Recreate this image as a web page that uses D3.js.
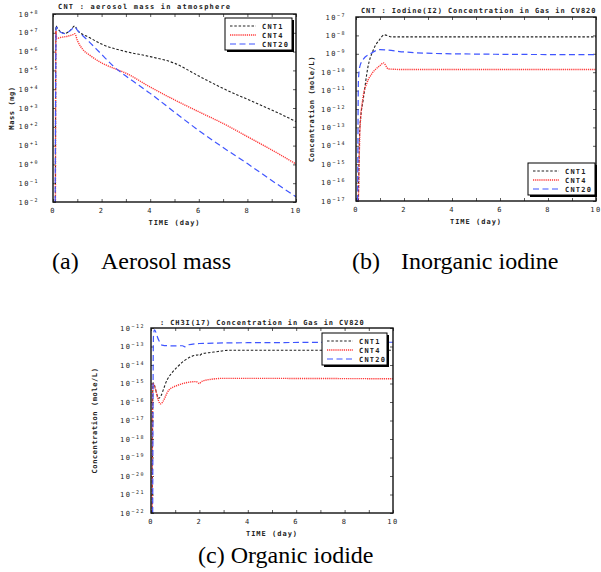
<!DOCTYPE html>
<html>
<head>
<meta charset="utf-8">
<script src="https://cdn.jsdelivr.net/npm/d3@7"></script>
<style>
  body { margin: 0; background: #fff; }
  svg { display: block; }
  .tick-lbl { font-family: "DejaVu Sans Mono", monospace; font-size: 7px; fill: #222; letter-spacing: 1px; }
  .caption { font-family: "Liberation Serif", "Times New Roman", serif; font-size: 24px; fill: #000; }
</style>
</head>
<body>
<svg id="chart" width="601" height="572"></svg>
<script>
// ---- data ----
const seriesNames = ['CNT1', 'CNT4', 'CNT20'];
const xTicks = [0, 2, 4, 6, 8, 10];

// (a) aerosol mass in atmosphere (mg)
const massT1 = [0.10, 0.12, 0.2, 0.5, 0.7, 0.9, 1.0, 1.5, 2, 3, 4, 5, 6, 7, 8, 9, 10];
const massV1 = [1e-2, 2.3e7, 1.6e7, 9.3e6, 1.3e7, 2.3e7, 1.4e7, 5.6e6, 2.5e6, 1.0e6, 5.4e5, 2.4e5, 5.0e4, 1.1e4, 2.9e3, 7.9e2, 1.9e2];
const massT4 = [0.10, 0.12, 0.15, 0.3, 0.6, 0.85, 0.9, 1.0, 1.25, 1.5, 2, 2.5, 3, 4, 5, 6, 7, 8, 9, 10];
const massV4 = [1e-2, 1.3e7, 5.0e6, 5.6e6, 6.6e6, 8.3e6, 8.9e6, 4.0e6, 1.2e6, 6.6e5, 2.5e5, 1.3e5, 7.1e4, 1.3e4, 2.7e3, 6.3e2, 1.5e2, 30, 5.9, 1.05];
const massT20 = [0.09, 0.13, 0.3, 0.5, 0.7, 0.9, 1.0, 1.5, 2, 2.5, 3, 4, 5, 6, 7, 8, 9, 10];
const massV20 = [1e-2, 2.0e7, 1.1e7, 8.9e6, 1.3e7, 2.0e7, 1.4e7, 3.2e6, 7.1e5, 1.6e5, 5.0e4, 6.0e3, 6.0e2, 63, 7.9, 1.1, 0.14, 0.019];

// (b) iodine (I2) concentration in gas in CV820 (mole/L)
const i2T1 = [0.1, 0.15, 0.2, 0.3, 0.5, 0.72, 1.0, 1.17, 1.5, 3, 6, 10];
const i2V1 = [1e-17, 5.0e-14, 4.0e-13, 3.2e-12, 2.0e-10, 1.6e-9, 6.3e-9, 1.07e-8, 8.3e-9, 8.3e-9, 8.3e-9, 8.3e-9];
const i2T4 = [0.1, 0.17, 0.28, 0.45, 0.65, 1.0, 1.14, 1.35, 2, 5, 10];
const i2V4 = [1e-17, 1e-13, 3.2e-12, 2.5e-11, 7.9e-11, 2.3e-10, 3.2e-10, 1.5e-10, 1.4e-10, 1.4e-10, 1.4e-10];
const i2T20 = [0.07, 0.1, 0.15, 0.3, 0.6, 1.0, 1.3, 2, 4, 10];
const i2V20 = [1e-17, 3.2e-11, 1.8e-10, 5.0e-10, 1.0e-9, 1.7e-9, 1.6e-9, 1.26e-9, 1.0e-9, 8.9e-10];

// (c) CH3I(17) concentration in gas in CV820 (mole/L)
const ch3iT1 = [0.05, 0.08, 0.32, 0.67, 1.09, 1.65, 1.95, 2.0, 2.1, 2.6, 3.3, 10];
const ch3iV1 = [1e-22, 1.1e-15, 1.6e-16, 1.6e-15, 7.9e-15, 2.8e-14, 3.5e-14, 3.2e-14, 4.0e-14, 5.0e-14, 6.3e-14, 6.3e-14];
const ch3iT4 = [0.05, 0.07, 0.39, 0.74, 1.09, 1.86, 2.0, 2.1, 2.5, 3, 10];
const ch3iV4 = [1e-22, 1.0e-15, 7.9e-17, 4.4e-16, 7.9e-16, 1.26e-15, 1.0e-15, 1.3e-15, 1.7e-15, 1.9e-15, 1.8e-15];
const ch3iT20 = [0.07, 0.1, 0.14, 0.3, 0.45, 0.9, 1.3, 1.4, 1.5, 2, 4, 10];
const ch3iV20 = [1e-22, 3.2e-13, 7.9e-13, 2.5e-13, 1.2e-13, 1.07e-13, 1.1e-13, 9.5e-14, 1.2e-13, 1.45e-13, 1.6e-13, 1.7e-13];

// ---- styles per series ----
const seriesStyle = {
  CNT1:  { color: '#222', dash: '2.5,1.8', width: 1.1 },
  CNT4:  { color: '#ff3838', dash: '1.2,0.9', width: 1.4 },
  CNT20: { color: '#3f55ff', dash: '6,3.5', width: 1.2 }
};

const svg = d3.select('#chart');

function zipSeries(ts, vs) {
  return ts.map((t, i) => [t, vs[i]]);
}

// 上标形式的刻度标签 "1 0^+8"
function expLabel(sel, v) {
  const e = Math.round(Math.log10(v));
  const sign = e < 0 ? '\u2212' : '+';
  sel.text(null);
  sel.append('tspan').text('10');
  sel.append('tspan').attr('dy', -3).style('font-size', '5px').text(sign + Math.abs(e));
}

function drawPanel(cfg) {
  const { left, right, top, bottom } = cfg.box;
  const x = d3.scaleLinear().domain([0, 10]).range([left, right]);
  const y = d3.scaleLog().domain(cfg.yDomain).range([bottom, top]);
  const decades = d3.range(Math.log10(cfg.yDomain[0]), Math.log10(cfg.yDomain[1]) + 1).map(e => Math.pow(10, e));

  const g = svg.append('g');
  const clipId = 'clip-' + cfg.id;
  g.append('clipPath').attr('id', clipId)
    .append('rect').attr('x', left).attr('y', top).attr('width', right - left).attr('height', bottom - top);

  // inward ticks on four sides
  const minor = d3.range(0, 11);
  g.append('g').attr('transform', `translate(0,${bottom})`)
    .call(d3.axisBottom(x).tickValues(minor).tickSize(-3).tickFormat(''));
  g.append('g').attr('transform', `translate(0,${top})`)
    .call(d3.axisTop(x).tickValues(minor).tickSize(-3).tickFormat(''));
  g.append('g').attr('transform', `translate(${left},0)`)
    .call(d3.axisLeft(y).tickValues(decades).tickSize(-3).tickFormat(''));
  g.append('g').attr('transform', `translate(${right},0)`)
    .call(d3.axisRight(y).tickValues(decades).tickSize(-3).tickFormat(''));
  g.selectAll('.domain').remove();
  g.selectAll('.tick line').attr('stroke', '#333').attr('stroke-width', 0.8);

  // x tick labels
  g.selectAll('.xlbl').data(xTicks).join('text')
    .attr('class', 'tick-lbl')
    .attr('x', d => x(d)).attr('y', bottom + 11)
    .attr('text-anchor', 'middle')
    .style('letter-spacing', '1.5px')
    .text(d => d);

  // y tick labels
  g.selectAll('.ylbl').data(decades).join('text')
    .attr('class', 'tick-lbl')
    .attr('x', left - cfg.yLabelGap).attr('y', d => y(d) + 2.5)
    .attr('text-anchor', 'end')
    .style('letter-spacing', '1.5px')
    .each(function(d) { expLabel(d3.select(this), d); });

  // axis titles
  g.append('text').attr('class', 'tick-lbl')
    .attr('x', (left + right) / 2).attr('y', bottom + 23)
    .attr('text-anchor', 'middle').style('font-weight', 'bold')
    .text('TIME (day)');
  g.append('text').attr('class', 'tick-lbl')
    .attr('transform', `translate(${cfg.yTitleX},${(top + bottom) / 2}) rotate(-90)`)
    .attr('text-anchor', 'middle').style('font-weight', 'bold').style('letter-spacing', '0.6px')
    .text(cfg.yTitle);
  g.append('text').attr('class', 'tick-lbl')
    .attr('x', cfg.titleX).attr('y', cfg.titleY)
    .style('font-weight', 'bold').style('letter-spacing', cfg.titleSpacing + 'px')
    .text(cfg.title);

  // curves
  const line = d3.line().x(d => x(d[0])).y(d => y(d[1])).curve(d3.curveMonotoneX);
  const plot = g.append('g').attr('clip-path', `url(#${clipId})`);
  cfg.series.forEach((pts, i) => {
    const st = seriesStyle[seriesNames[i]];
    plot.append('path').datum(pts)
      .attr('d', line)
      .attr('fill', 'none')
      .attr('stroke', st.color)
      .attr('stroke-width', st.width)
      .attr('stroke-dasharray', st.dash);
  });

  // frame
  g.append('rect')
    .attr('x', left).attr('y', top).attr('width', right - left).attr('height', bottom - top)
    .attr('fill', 'none').attr('stroke', '#111').attr('stroke-width', 1.4);

  // legend with drop shadow
  const lg = cfg.legend;
  g.append('rect').attr('x', lg.x + 2).attr('y', lg.y + 2).attr('width', lg.w).attr('height', 32).attr('fill', '#000');
  g.append('rect').attr('x', lg.x).attr('y', lg.y).attr('width', lg.w).attr('height', 32)
    .attr('fill', '#fff').attr('stroke', '#000').attr('stroke-width', 1);
  seriesNames.forEach((name, i) => {
    const st = seriesStyle[name];
    const ly = lg.y + 8 + i * 9;
    g.append('line').attr('x1', lg.x + 5).attr('x2', lg.x + 31).attr('y1', ly).attr('y2', ly)
      .attr('stroke', st.color).attr('stroke-width', st.width).attr('stroke-dasharray', st.dash);
    g.append('text').attr('class', 'tick-lbl')
      .attr('x', lg.x + 37).attr('y', ly + 2.5)
      .style('font-weight', 'bold').style('letter-spacing', '1.2px')
      .text(name);
  });
}

drawPanel({
  id: 'a',
  box: { left: 53, right: 296, top: 14, bottom: 202 },
  yDomain: [1e-2, 1e8],
  yLabelGap: 14,
  yTitle: 'Mass (mg)', yTitleX: 14,
  title: 'CNT : aerosol mass in atmosphere', titleX: 58, titleY: 9, titleSpacing: 1.2,
  legend: { x: 225, y: 18, w: 67 },
  series: [zipSeries(massT1, massV1), zipSeries(massT4, massV4), zipSeries(massT20, massV20)]
});

drawPanel({
  id: 'b',
  box: { left: 356, right: 596, top: 17, bottom: 201 },
  yDomain: [1e-17, 1e-7],
  yLabelGap: 10,
  yTitle: 'Concentration (mole/L)', yTitleX: 314,
  title: 'CNT : Iodine(I2) Concentration in Gas in CV820', titleX: 361, titleY: 13, titleSpacing: 0.9,
  legend: { x: 528, y: 163, w: 67 },
  series: [zipSeries(i2T1, i2V1), zipSeries(i2T4, i2V4), zipSeries(i2T20, i2V20)]
});

drawPanel({
  id: 'c',
  box: { left: 151, right: 393, top: 328, bottom: 513 },
  yDomain: [1e-22, 1e-12],
  yLabelGap: 6,
  yTitle: 'Concentration (mole/L)', yTitleX: 97,
  title: ': CH3I(17) Concentration in Gas in CV820', titleX: 160, titleY: 325, titleSpacing: 0.9,
  legend: { x: 322, y: 333, w: 65 },
  series: [zipSeries(ch3iT1, ch3iV1), zipSeries(ch3iT4, ch3iV4), zipSeries(ch3iT20, ch3iV20)]
});

// captions
const captions = [
  { x: 52, y: 269, label: '(a)' }, { x: 101, y: 269, label: 'Aerosol mass' },
  { x: 352, y: 269, label: '(b)' }, { x: 401, y: 269, label: 'Inorganic iodine' },
  { x: 198, y: 563, label: '(c) Organic iodide' }
];
svg.selectAll('.caption').data(captions).join('text')
  .attr('class', 'caption')
  .attr('x', d => d.x).attr('y', d => d.y)
  .text(d => d.label);
</script>
</body>
</html>
